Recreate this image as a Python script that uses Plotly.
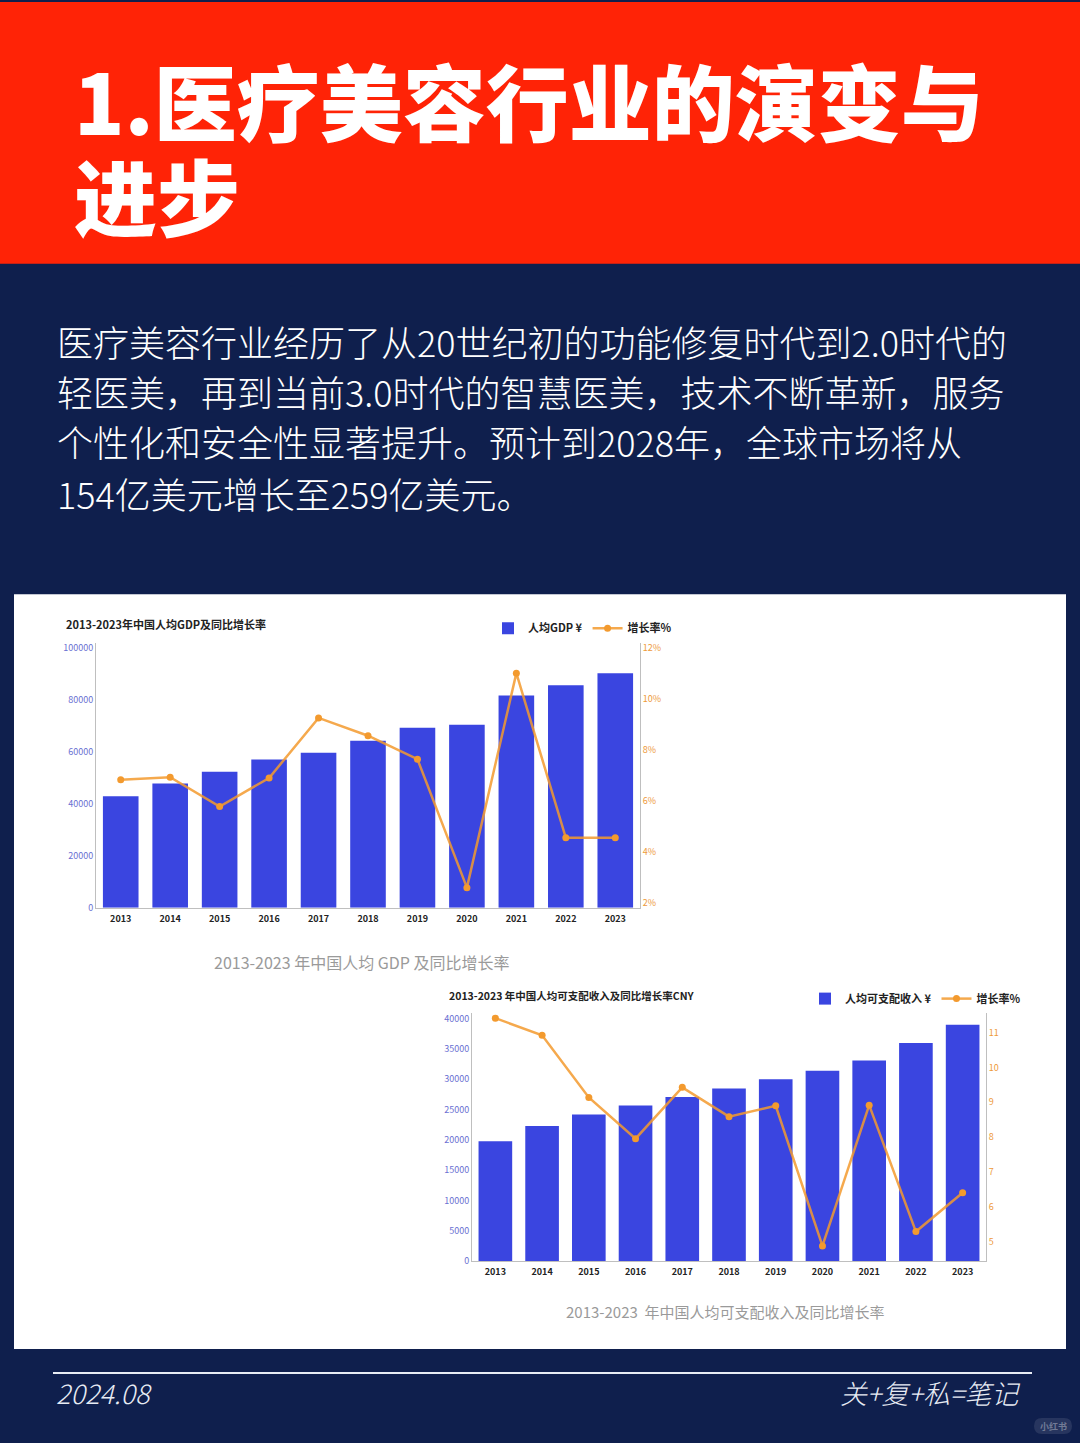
import plotly.graph_objects as go

W, H = 1080, 1443

years = ["2013", "2014", "2015", "2016", "2017", "2018", "2019", "2020", "2021", "2022", "2023"]
gdp_per_capita = [43000, 47900, 52400, 57100, 59700, 64400, 69400, 70500, 81800, 85800, 90400]
gdp_growth = [6.83, 6.93, 5.78, 6.9, 9.26, 8.56, 7.64, 2.59, 11.02, 4.55, 4.55]
income_per_capita = [19800, 22300, 24200, 25700, 27100, 28500, 30000, 31400, 33100, 36000, 39000]
income_growth = [11.41, 10.92, 9.14, 7.96, 9.43, 8.59, 8.9, 4.89, 8.92, 5.3, 6.41]

gdp_left_ticks = [0, 20000, 40000, 60000, 80000, 100000]
gdp_right_ticks = [2, 4, 6, 8, 10, 12]
gdp_right_labels = ["2%", "4%", "6%", "8%", "10%", "12%"]
inc_left_ticks = [0, 5000, 10000, 15000, 20000, 25000, 30000, 35000, 40000]
inc_right_ticks = [5, 6, 7, 8, 9, 10, 11]

title_lines = ["1.医疗美容行业的演变与", "进步"]
para_lines = [
    "医疗美容行业经历了从20世纪初的功能修复时代到2.0时代的",
    "轻医美，再到当前3.0时代的智慧医美，技术不断革新，服务",
    "个性化和安全性显著提升。预计到2028年，全球市场将从",
    "154亿美元增长至259亿美元。",
]

RED = "#FF2306"
NAVY = "#0F1F4D"
BLUE = "#3A45E0"
ORANGE = "#F39A2E"
ORANGE_LINE = "rgba(243,154,46,0.85)"
CJK = "Noto Sans CJK SC"

HP = 1437.0  # effective paper height used for pixel -> paper mapping


def px(x):
    return x / W


def py(y):
    return 1 - y / HP


fig = go.Figure()

# Chart 1
fig.add_trace(go.Bar(x=years, y=gdp_per_capita, name="人均GDP ¥", marker=dict(color=BLUE, line=dict(width=0)),
                     xaxis="x", yaxis="y", legend="legend"))
fig.add_trace(go.Scatter(x=years, y=gdp_growth, name="增长率%", mode="lines+markers",
                         line=dict(color=ORANGE_LINE, width=2.5), marker=dict(size=7, color=ORANGE),
                         xaxis="x", yaxis="y2", legend="legend"))
# Chart 2
fig.add_trace(go.Bar(x=years, y=income_per_capita, name="人均可支配收入 ¥", marker=dict(color=BLUE, line=dict(width=0)),
                     xaxis="x3", yaxis="y3", legend="legend2"))
fig.add_trace(go.Scatter(x=years, y=income_growth, name="增长率%", mode="lines+markers",
                         line=dict(color=ORANGE_LINE, width=2.5), marker=dict(size=7, color=ORANGE),
                         xaxis="x3", yaxis="y4", legend="legend2"))

axis_common = dict(showgrid=False, zeroline=False, fixedrange=True)
tickfont_x = dict(family=CJK, size=9, color="#222222", weight="bold")
tickfont_l = dict(family=CJK, size=9, color="#6A70D2")
tickfont_r = dict(family=CJK, size=9, color="#EE9A3A")

# watermark pill
wx0, wx1, wy0, wy1 = px(1034), px(1072), py(1434), py(1418)
r = 8 / W
pill = (f"M {wx0 + r},{wy0} L {wx1 - r},{wy0} Q {wx1},{wy0} {wx1},{(wy0 + wy1) / 2} "
        f"Q {wx1},{wy1} {wx1 - r},{wy1} L {wx0 + r},{wy1} Q {wx0},{wy1} {wx0},{(wy0 + wy1) / 2} "
        f"Q {wx0},{wy0} {wx0 + r},{wy0} Z")

shapes = [
    dict(type="rect", xref="paper", yref="paper", x0=0, x1=1, y0=py(262), y1=1,
         fillcolor=RED, line=dict(width=0), layer="below"),
    dict(type="rect", xref="paper", yref="paper", x0=px(14), x1=px(1066), y0=py(1349), y1=py(593),
         fillcolor="white", line=dict(width=0), layer="below"),
    dict(type="line", xref="paper", yref="paper", x0=px(53), x1=px(1032), y0=py(1373), y1=py(1373),
         line=dict(color="#E8ECF4", width=2)),
    dict(type="path", xref="paper", yref="paper", path=pill, fillcolor="rgba(255,255,255,0.10)",
         line=dict(width=0)),
]

annotations = []
for t, y in zip(title_lines, [97, 192]):
    annotations.append(dict(text=t, xref="paper", yref="paper", x=px(72), y=py(y), xanchor="left", yanchor="middle",
                            showarrow=False, font=dict(family=CJK, size=83, color="white", weight=900)))
para_y = [339, 390, 440, 492]
for t, y in zip(para_lines, para_y):
    annotations.append(dict(text=t, xref="paper", yref="paper", x=px(55), y=py(y), xanchor="left", yanchor="middle",
                            showarrow=False, font=dict(family=CJK, size=36, color="white", weight=300)))

annotations += [
    dict(text="<b>2013-2023年中国人均GDP及同比增长率</b>", xref="paper", yref="paper", x=px(64), y=py(623),
         xanchor="left", yanchor="middle", showarrow=False, font=dict(family=CJK, size=11, color="#222222")),
    dict(text="2013-2023 年中国人均 GDP 及同比增长率", xref="paper", yref="paper", x=px(362), y=py(961),
         xanchor="center", yanchor="middle", showarrow=False, font=dict(family=CJK, size=16, color="#9A9A9A")),
    dict(text="<b>2013-2023 年中国人均可支配收入及同比增长率CNY</b>", xref="paper", yref="paper", x=px(447), y=py(995),
         xanchor="left", yanchor="middle", showarrow=False, font=dict(family=CJK, size=10.5, color="#222222")),
    dict(text="2013-2023  年中国人均可支配收入及同比增长率", xref="paper", yref="paper", x=px(725), y=py(1311),
         xanchor="center", yanchor="middle", showarrow=False, font=dict(family=CJK, size=15, color="#9A9A9A")),
    dict(text="<i>2024.08</i>", xref="paper", yref="paper", x=px(54), y=py(1392),
         xanchor="left", yanchor="middle", showarrow=False, font=dict(family=CJK, size=27, color="#E8ECF4", weight=300)),
    dict(text="<i>关+复+私=笔记</i>", xref="paper", yref="paper", x=px(1022), y=py(1392),
         xanchor="right", yanchor="middle", showarrow=False, font=dict(family=CJK, size=27, color="#E8ECF4", weight=300)),
    dict(text="小红书", xref="paper", yref="paper", x=px(1053), y=py(1426),
         xanchor="center", yanchor="middle", showarrow=False,
         font=dict(family=CJK, size=9, color="rgba(255,255,255,0.35)", weight="bold")),
]

legend_font = dict(family=CJK, size=11, color="#222222", weight="bold")

fig.update_layout(
    width=W, height=H,
    autosize=False,
    margin=dict(l=0, r=0, t=0, b=0, pad=0),
    paper_bgcolor=NAVY, plot_bgcolor="rgba(0,0,0,0)",
    showlegend=True,
    bargap=0.28,
    shapes=shapes,
    annotations=annotations,
    hovermode=False,
    xaxis=dict(domain=[px(96), px(640)], anchor="y", range=[-0.5, 10.5], tickfont=tickfont_x, showline=True,
               linecolor="#BFBFBF", linewidth=1, ticks="", ticklabelstandoff=2, **axis_common),
    yaxis=dict(domain=[py(907), py(642)], anchor="x", range=[0, 102000], tickvals=gdp_left_ticks, tickformat="d",
               tickfont=tickfont_l, showline=True, linecolor="#BFBFBF", linewidth=1, ticks="", **axis_common),
    yaxis2=dict(overlaying="y", side="right", anchor="x", range=[1.8, 12.2], tickvals=gdp_right_ticks,
                ticktext=gdp_right_labels, tickfont=tickfont_r, showline=True, linecolor="#BFBFBF",
                linewidth=1, ticks="", **axis_common),
    xaxis3=dict(domain=[px(472), px(986)], anchor="y3", range=[-0.5, 10.5], tickfont=tickfont_x, showline=True,
                linecolor="#BFBFBF", linewidth=1, ticks="", ticklabelstandoff=2, **axis_common),
    yaxis3=dict(domain=[py(1261), py(1012)], anchor="x3", range=[0, 41000], tickvals=inc_left_ticks, tickformat="d",
                tickfont=tickfont_l, showline=True, linecolor="#BFBFBF", linewidth=1, ticks="", **axis_common),
    yaxis4=dict(overlaying="y3", side="right", anchor="x3", range=[4.45, 11.57], tickvals=inc_right_ticks,
                tickfont=tickfont_r, showline=True, linecolor="#BFBFBF", linewidth=1, ticks="", **axis_common),
    legend=dict(orientation="h", x=px(488), y=py(627), xanchor="left", yanchor="middle",
                font=legend_font, bgcolor="rgba(0,0,0,0)", itemwidth=30, traceorder="normal"),
    legend2=dict(orientation="h", x=px(805), y=py(998), xanchor="left", yanchor="middle",
                 font=legend_font, bgcolor="rgba(0,0,0,0)", itemwidth=30, traceorder="normal"),
)

fig.write_html("out.html", config={"displayModeBar": False})
